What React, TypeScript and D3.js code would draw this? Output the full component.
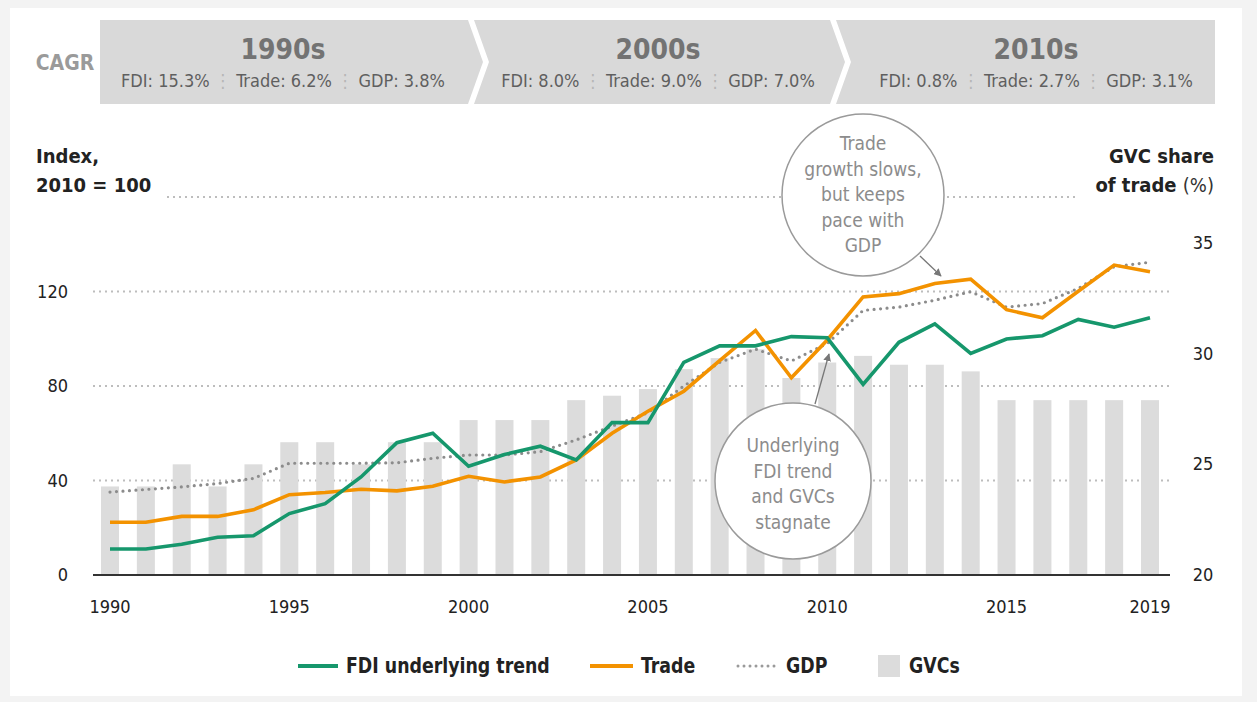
import React from "react";
import * as d3 from "d3";

const years = [1990,1991,1992,1993,1994,1995,1996,1997,1998,1999,2000,2001,2002,2003,2004,2005,2006,2007,2008,2009,2010,2011,2012,2013,2014,2015,2016,2017,2018,2019];
const fdi = [11,11,13,16,16.6,26,30.2,41.5,56,60,46,51,54.5,48.7,64.5,64.5,90,97,97,100.9,100.4,80.7,98.5,106.3,93.8,99.9,101.3,108.2,104.9,108.9];
const trade = [22.3,22.3,24.8,24.8,27.6,34,34.9,36.3,35.6,37.6,41.8,39.4,41.5,48.7,60,69.3,77.8,90.7,103.5,83.5,99.5,117.7,119.1,123.4,125.2,112.3,108.9,120.1,131.2,128.4];
const gdp = [35.1,36.2,37.3,38.7,40.9,47.3,47.3,47.3,47.5,49.4,50.8,50.8,52.2,57.2,63,68.7,80,90,95.6,90.6,98,112,113.4,116.3,119.9,113.4,114.9,121.3,130.5,132.4];
const gvc = [24,24,25,24,25,26,26,25,26,26,27,27,27,27.9,28.1,28.4,29.3,29.8,30.2,28.9,29.6,29.9,29.5,29.5,29.2,27.9,27.9,27.9,27.9,27.9];

const leftTicks = [0,40,80,120];
const rightTicks = [20,25,30,35];
const xTicks = [1990,1995,2000,2005,2010,2015,2019];

const decades = ["1990s","2000s","2010s"];
const cagrFDI = ["15.3%","8.0%","0.8%"];
const cagrTrade = ["6.2%","9.0%","2.7%"];
const cagrGDP = ["3.8%","7.0%","3.1%"];

const legendLabels = ["FDI underlying trend", "Trade", "GDP", "GVCs"];

const FONT = "'Liberation Sans Narrow', 'DejaVu Sans Condensed', 'Roboto Condensed', sans-serif";
const GREEN = "#16976c";
const ORANGE = "#f39200";
const BAR = "#dcdcdc";

function LegendText({ x, label }: { x: number; label: string }) {
  return (
    <text transform={`translate(${x},673) scale(0.92,1)`} fontSize={21} fontWeight="bold" fill="#222">
      {label}
    </text>
  );
}

export default function App() {
  const x = d3.scaleLinear().domain([1990, 2019]).range([110, 1150]);
  const yL = d3.scaleLinear().domain([0, 160]).range([575, 197]);
  const yR = d3.scaleLinear().domain([20, 35]).range([575, 243]);

  const mk = (vals: number[]) =>
    d3.line<number>().x((_, i) => x(years[i])).y((v) => yL(v))(vals) || "";

  const segs = [
    { x0: 100, x1: 468, notch: false, last: false },
    { x0: 474, x1: 830, notch: true, last: false },
    { x0: 836, x1: 1215, notch: true, last: true },
  ];
  const hTop = 20, hBot = 104, hMid = 62, tip = 15;
  const segPath = (s: any) => {
    const pts: [number, number][] = [];
    pts.push([s.x0, hTop]);
    if (s.last) {
      pts.push([s.x1, hTop], [s.x1, hBot]);
    } else {
      pts.push([s.x1, hTop], [s.x1 + tip, hMid], [s.x1, hBot]);
    }
    pts.push([s.x0, hBot]);
    if (s.notch) pts.push([s.x0 + tip, hMid]);
    return "M" + pts.map((p) => p.join(",")).join("L") + "Z";
  };
  const centers = [283, 658, 1036];

  return (
    <div style={{ position: "absolute", left: 0, top: 0 }}>
      <svg width={1257} height={702} style={{ display: "block", fontFamily: FONT }}>
        <rect x={0} y={0} width={1257} height={702} fill="#f3f3f3" />
        <rect x={10} y={8} width={1232} height={688} fill="#ffffff" />

        {/* header */}
        <text x={65} y={70} textAnchor="middle" fontSize={21} fontWeight="bold" fill="#9a9a9a">CAGR</text>
        {segs.map((s, i) => (
          <path key={i} d={segPath(s)} fill="#d9d9d9" />
        ))}
        {decades.map((d, i) => (
          <g key={d}>
            <text x={centers[i]} y={59} textAnchor="middle" fontSize={28} fontWeight="bold" fill="#737373">{d}</text>
            <text x={centers[i]} y={87} textAnchor="middle" fontSize={18} fill="#5f5f5f" fontWeight="500">
              <tspan>{`FDI: ${cagrFDI[i]} `}</tspan>
              <tspan fill="#b5b5b5">⋮</tspan>
              <tspan>{` Trade: ${cagrTrade[i]} `}</tspan>
              <tspan fill="#b5b5b5">⋮</tspan>
              <tspan>{` GDP: ${cagrGDP[i]}`}</tspan>
            </text>
          </g>
        ))}

        {/* axis titles */}
        <text x={36} y={163} fontSize={20} fontWeight="bold" fill="#222">Index,</text>
        <text x={36} y={192} fontSize={20} fontWeight="bold" fill="#222">2010 = 100</text>
        <text x={1214} y={163} textAnchor="end" fontSize={20} fontWeight="bold" fill="#222">GVC share</text>
        <text x={1214} y={192} textAnchor="end" fontSize={20} fill="#222">
          <tspan fontWeight="bold">of trade </tspan>
          <tspan fill="#333">(%)</tspan>
        </text>

        {/* gridlines */}
        {[40, 80, 120].map((t) => (
          <line key={t} x1={93} x2={1170} y1={yL(t)} y2={yL(t)} stroke="#bdbdbd" strokeWidth={2} strokeDasharray="2 4" />
        ))}
        <line x1={167} x2={1077} y1={yL(160)} y2={yL(160)} stroke="#bdbdbd" strokeWidth={2} strokeDasharray="2 4" />

        {/* bars */}
        {gvc.map((v, i) => (
          <rect key={i} x={x(years[i]) - 9} width={18} y={yR(v)} height={yR(20) - yR(v)} fill={BAR} />
        ))}

        {/* baseline */}
        <line x1={93} x2={1170} y1={575} y2={575} stroke="#333" strokeWidth={2} />

        {/* lines */}
        <path d={mk(gdp)} fill="none" stroke="#8c8c8c" strokeWidth={3.2} strokeDasharray="0 6.5" strokeLinecap="round" />
        <path d={mk(trade)} fill="none" stroke={ORANGE} strokeWidth={3.6} />
        <path d={mk(fdi)} fill="none" stroke={GREEN} strokeWidth={3.6} />

        {/* left ticks */}
        {leftTicks.map((t) => (
          <text key={t} x={68} y={yL(t) + 6} textAnchor="end" fontSize={18} fill="#222">{t}</text>
        ))}
        {/* right ticks */}
        {rightTicks.map((t) => (
          <text key={t} x={1203} y={yR(t) + 6} textAnchor="middle" fontSize={18} fill="#222">{t}</text>
        ))}
        {/* x ticks */}
        {xTicks.map((t) => (
          <text key={t} x={x(t)} y={613} textAnchor="middle" fontSize={18} fill="#222">{t}</text>
        ))}

        {/* callouts */}
        <defs>
          <marker id="arr" viewBox="0 0 10 10" refX={9} refY={5} markerWidth={6} markerHeight={6} orient="auto">
            <path d="M0,0L10,5L0,10Z" fill="#777" />
          </marker>
        </defs>
        <circle cx={863} cy={195} r={81} fill="#fff" stroke="#9a9a9a" strokeWidth={1.5} />
        {["Trade", "growth slows,", "but keeps", "pace with", "GDP"].map((s, i) => (
          <text key={s} x={863} y={150 + i * 25.5} textAnchor="middle" fontSize={19} fill="#8c8c8c">{s}</text>
        ))}
        <line x1={920} y1={256} x2={941} y2={276} stroke="#777" strokeWidth={1.3} markerEnd="url(#arr)" />

        <line x1={815} y1={404} x2={829} y2={354} stroke="#777" strokeWidth={1.3} markerEnd="url(#arr)" />
        <circle cx={793} cy={481} r={78} fill="#fff" stroke="#9a9a9a" strokeWidth={1.5} />
        {["Underlying", "FDI trend", "and GVCs", "stagnate"].map((s, i) => (
          <text key={s} x={793} y={452 + i * 25.5} textAnchor="middle" fontSize={19} fill="#8c8c8c">{s}</text>
        ))}

        {/* legend */}
        <line x1={298} x2={338} y1={666} y2={666} stroke={GREEN} strokeWidth={4} />
        <LegendText x={346} label={legendLabels[0]} />
        <line x1={590} x2={633} y1={666} y2={666} stroke={ORANGE} strokeWidth={4} />
        <LegendText x={641} label={legendLabels[1]} />
        <line x1={738} x2={778} y1={666} y2={666} stroke="#9a9a9a" strokeWidth={3} strokeDasharray="0 6" strokeLinecap="round" />
        <LegendText x={786} label={legendLabels[2]} />
        <rect x={878} y={655} width={22} height={22} fill={BAR} />
        <LegendText x={909} label={legendLabels[3]} />
      </svg>
    </div>
  );
}
